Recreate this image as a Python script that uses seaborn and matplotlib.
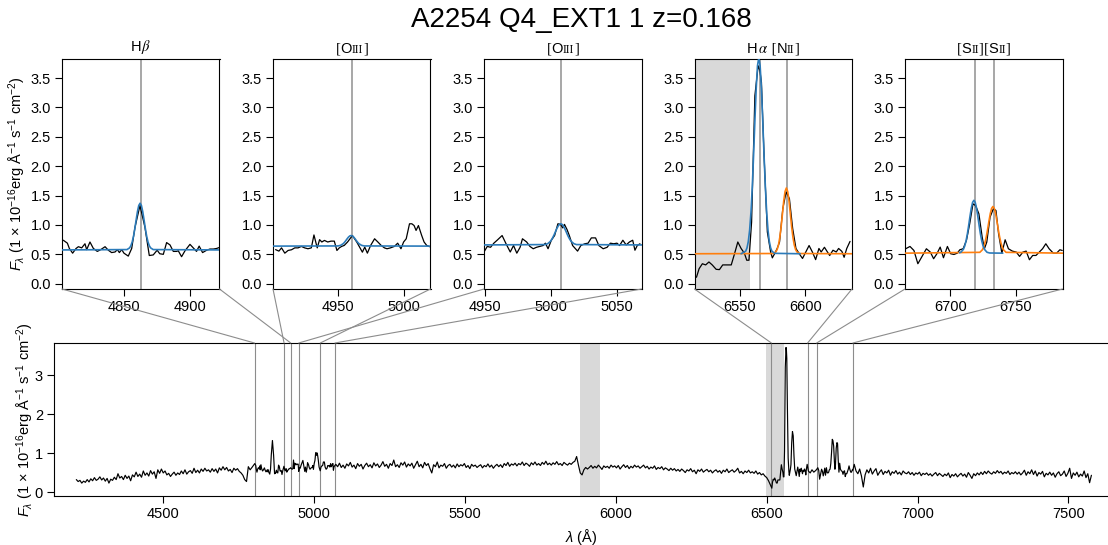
import numpy as np
import pandas as pd
import seaborn as sns
import matplotlib
matplotlib.use("Agg")
import matplotlib.pyplot as plt
from matplotlib.patches import ConnectionPatch
from matplotlib.ticker import MultipleLocator, FormatStrFormatter
from matplotlib.offsetbox import TextArea, HPacker, AnchoredOffsetbox

# ---------------- data (rest-frame wavelength in Angstrom, flux in 1e-16 cgs) ----------------
title = "A2254 Q4_EXT1 1 z=0.168"

# continuum pieces of the full spectrum (6 A sampling)
blue_wave = np.arange(4212, 4800, 6)
blue_flux = [
    0.33, 0.28, 0.31, 0.24, 0.29, 0.26, 0.33, 0.27, 0.35, 0.30,
    0.38, 0.31, 0.34, 0.40, 0.32, 0.37, 0.29, 0.36, 0.24, 0.34,
    0.31, 0.39, 0.33, 0.48, 0.37, 0.41, 0.33, 0.44, 0.36, 0.42,
    0.30, 0.45, 0.40, 0.52, 0.41, 0.47, 0.39, 0.55, 0.44, 0.50,
    0.42, 0.56, 0.47, 0.53, 0.36, 0.58, 0.49, 0.60, 0.50, 0.55,
    0.45, 0.49, 0.41, 0.47, 0.52, 0.44, 0.50, 0.46, 0.55, 0.48,
    0.58, 0.47, 0.53, 0.56, 0.49, 0.62, 0.51, 0.57, 0.50, 0.60,
    0.54, 0.62, 0.55, 0.58, 0.52, 0.61, 0.54, 0.60, 0.50, 0.63,
    0.57, 0.66, 0.58, 0.64, 0.55, 0.59, 0.51, 0.62, 0.57, 0.61,
    0.54, 0.50, 0.44, 0.33, 0.28, 0.66, 0.58, 0.64,
]
mid_wave = np.arange(5072, 6512, 6)
mid_flux = [
    0.72, 0.66, 0.75, 0.64, 0.70, 0.62, 0.73, 0.68, 0.77, 0.65,
    0.70, 0.61, 0.74, 0.67, 0.72, 0.60, 0.69, 0.75, 0.66, 0.71,
    0.63, 0.76, 0.68, 0.73, 0.64, 0.70, 0.79, 0.67, 0.72, 0.62,
    0.74, 0.69, 0.83, 0.66, 0.71, 0.64, 0.76, 0.70, 0.78, 0.65,
    0.73, 0.68, 0.75, 0.62, 0.71, 0.80, 0.66, 0.72, 0.63, 0.77,
    0.69, 0.74, 0.61, 0.50, 0.71, 0.66, 0.78, 0.63, 0.70, 0.67,
    0.74, 0.62, 0.69, 0.72, 0.65, 0.70, 0.63, 0.73, 0.66, 0.71,
    0.68, 0.74, 0.64, 0.69, 0.61, 0.72, 0.67, 0.70, 0.64, 0.68,
    0.71, 0.63, 0.69, 0.66, 0.73, 0.65, 0.70, 0.62, 0.68, 0.72,
    0.66, 0.71, 0.64, 0.74, 0.69, 0.77, 0.67, 0.73, 0.70, 0.75,
    0.68, 0.74, 0.71, 0.78, 0.69, 0.75, 0.72, 0.67, 0.76, 0.71,
    0.78, 0.70, 0.74, 0.69, 0.77, 0.72, 0.80, 0.71, 0.75, 0.70,
    0.76, 0.72, 0.79, 0.71, 0.74, 0.69, 0.77, 0.73, 0.70, 0.75,
    0.72, 0.77, 0.80, 0.92, 0.70, 0.50, 0.45, 0.58, 0.64, 0.60,
    0.64, 0.69, 0.62, 0.67, 0.63, 0.70, 0.65, 0.59, 0.68, 0.64,
    0.67, 0.62, 0.70, 0.65, 0.68, 0.63, 0.69, 0.60, 0.66, 0.71,
    0.64, 0.69, 0.61, 0.67, 0.63, 0.70, 0.65, 0.68, 0.62, 0.66,
    0.70, 0.63, 0.67, 0.60, 0.65, 0.62, 0.68, 0.59, 0.64, 0.61,
    0.66, 0.58, 0.63, 0.60, 0.56, 0.62, 0.57, 0.61, 0.55, 0.59,
    0.54, 0.60, 0.56, 0.51, 0.58, 0.55, 0.61, 0.53, 0.57, 0.48,
    0.58, 0.54, 0.60, 0.52, 0.56, 0.59, 0.53, 0.57, 0.50, 0.55,
    0.58, 0.52, 0.56, 0.49, 0.57, 0.53, 0.60, 0.51, 0.55, 0.58,
    0.52, 0.56, 0.62, 0.50, 0.54, 0.48, 0.55, 0.51, 0.57, 0.50,
    0.53, 0.49, 0.55, 0.47, 0.51, 0.45, 0.48, 0.42, 0.38, 0.30,
]
gap_wave = np.arange(6638, 6664, 6)
gap_flux = [0.55, 0.50, 0.58, 0.52, 0.56]
red_wave = np.arange(6790, 7580, 6)
red_flux = [
    0.72, 0.55, 0.48, 0.60, 0.42, 0.14, 0.45, 0.58, 0.50, 0.62,
    0.47, 0.55, 0.61, 0.44, 0.52, 0.58, 0.46, 0.54, 0.50, 0.57,
    0.44, 0.53, 0.49, 0.56, 0.47, 0.52, 0.45, 0.55, 0.50, 0.48,
    0.53, 0.46, 0.51, 0.44, 0.50, 0.47, 0.52, 0.43, 0.49, 0.46,
    0.50, 0.44, 0.48, 0.42, 0.47, 0.51, 0.43, 0.49, 0.45, 0.41,
    0.47, 0.43, 0.50, 0.38, 0.46, 0.42, 0.48, 0.40, 0.45, 0.49,
    0.42, 0.47, 0.39, 0.51, 0.44, 0.36, 0.48, 0.43, 0.50, 0.45,
    0.52, 0.46, 0.54, 0.48, 0.55, 0.50, 0.47, 0.53, 0.49, 0.56,
    0.50, 0.54, 0.47, 0.52, 0.49, 0.55, 0.46, 0.51, 0.48, 0.53,
    0.47, 0.52, 0.45, 0.50, 0.57, 0.44, 0.53, 0.48, 0.58, 0.46,
    0.55, 0.42, 0.51, 0.47, 0.54, 0.40, 0.49, 0.45, 0.52, 0.44,
    0.50, 0.39, 0.48, 0.53, 0.43, 0.47, 0.55, 0.41, 0.49, 0.62,
    0.36, 0.50, 0.44, 0.52, 0.40, 0.47, 0.42, 0.55, 0.38, 0.48,
    0.25, 0.44,
]

# H-beta window
hb_wave = [4803.5, 4806.6, 4808.1, 4810.6, 4813.2, 4815.0, 4817.5, 4820.0, 4821.3, 4823.8,
           4826.4, 4829.4, 4832.0, 4835.3, 4837.8, 4840.3, 4842.9, 4844.7, 4846.2, 4848.0,
           4849.7, 4853.0, 4855.6, 4858.1, 4861.9, 4865.7, 4869.0, 4872.0, 4875.0, 4877.0,
           4879.7, 4882.2, 4884.8, 4887.3, 4889.8, 4891.1, 4893.6, 4896.2, 4900.0, 4902.5,
           4905.0, 4907.0, 4909.6, 4912.7, 4915.2, 4917.8, 4920.3, 4922.8]
hb_flux = [0.74, 0.69, 0.60, 0.52, 0.60, 0.63, 0.61, 0.68, 0.58, 0.71,
           0.60, 0.55, 0.58, 0.63, 0.57, 0.53, 0.54, 0.58, 0.53, 0.58,
           0.52, 0.47, 0.60, 0.96, 1.33, 0.96, 0.48, 0.49, 0.57, 0.51,
           0.50, 0.70, 0.66, 0.55, 0.55, 0.56, 0.46, 0.56, 0.67, 0.61,
           0.55, 0.64, 0.53, 0.57, 0.59, 0.59, 0.60, 0.62]
hb_fit_wave = [4802, 4852, 4854, 4855, 4856, 4857, 4858, 4859, 4860, 4861, 4862,
               4863, 4864, 4865, 4866, 4867, 4868, 4869, 4870, 4872, 4923]
hb_fit_flux = [0.575, 0.581, 0.61, 0.648, 0.712, 0.81, 0.939, 1.087, 1.229, 1.332, 1.37,
               1.332, 1.229, 1.087, 0.939, 0.81, 0.712, 0.648, 0.61, 0.581, 0.575]

# [OIII] 4959 window
o3a_wave = [4902.5, 4905.0, 4907.0, 4909.5, 4912.0, 4914.6, 4917.1, 4919.6, 4922.1, 4924.6,
            4927.1, 4929.7, 4931.7, 4934.2, 4936.0, 4937.7, 4939.7, 4942.2, 4944.7, 4947.2,
            4949.2, 4951.0, 4952.8, 4954.8, 4957.3, 4961.0, 4964.3, 4966.8, 4968.6, 4970.4,
            4972.4, 4974.9, 4977.9, 4980.4, 4982.9, 4985.4, 4987.4, 4990.0, 4993.0, 4995.5,
            4998.0, 5000.0, 5002.0, 5004.5, 5006.3, 5008.0, 5009.5, 5011.3, 5013.8, 5015.6,
            5017.6, 5019.8]
o3a_flux = [0.58, 0.555, 0.61, 0.52, 0.566, 0.578, 0.61, 0.61, 0.635, 0.61,
            0.595, 0.61, 0.83, 0.61, 0.75, 0.71, 0.737, 0.71, 0.725, 0.725,
            0.566, 0.61, 0.635, 0.652, 0.71, 0.82, 0.71, 0.61, 0.537, 0.623,
            0.52, 0.652, 0.765, 0.71, 0.652, 0.61, 0.595, 0.61, 0.635, 0.69,
            0.595, 0.71, 0.765, 1.02, 1.02, 0.99, 0.907, 0.99, 0.82, 0.71,
            0.652, 0.63]
o3a_fit_wave = [4900, 4950, 4952, 4954, 4955, 4956, 4957, 4958, 4959, 4960,
                4961, 4962, 4963, 4964, 4965, 4966, 4968, 4970, 5021]
o3a_fit_flux = [0.64, 0.643, 0.653, 0.681, 0.705, 0.734, 0.765, 0.793, 0.813, 0.82,
                0.813, 0.793, 0.765, 0.734, 0.705, 0.681, 0.653, 0.643, 0.64]

# [OIII] 5007 window
o3b_wave = [4949.0, 4951.5, 4954.0, 4956.5, 4959.0, 4962.8, 4965.8, 4969.0, 4971.5, 4974.0,
            4976.5, 4978.3, 4981.5, 4984.0, 4986.5, 4989.0, 4991.5, 4994.0, 4995.8, 4997.8,
            5000.3, 5002.8, 5005.3, 5007.3, 5009.0, 5010.3, 5012.3, 5014.0, 5016.5, 5020.3,
            5022.8, 5025.8, 5028.3, 5030.8, 5034.0, 5036.5, 5039.8, 5042.8, 5045.3, 5047.8,
            5050.3, 5052.3, 5054.8, 5057.3, 5059.8, 5062.3, 5064.0, 5065.8, 5067.8]
o3b_flux = [0.54, 0.635, 0.62, 0.69, 0.74, 0.82, 0.68, 0.54, 0.65, 0.52,
            0.62, 0.765, 0.71, 0.635, 0.595, 0.62, 0.635, 0.65, 0.69, 0.595,
            0.74, 0.82, 1.02, 1.01, 0.95, 1.01, 0.92, 0.82, 0.65, 0.555,
            0.65, 0.68, 0.69, 0.78, 0.78, 0.65, 0.595, 0.62, 0.69, 0.68,
            0.69, 0.65, 0.74, 0.66, 0.71, 0.74, 0.57, 0.65, 0.68]
o3b_fit_wave = [4948, 4995.5, 4997.5, 4999.5, 5000.5, 5001.5, 5002.5, 5003.5, 5004.5, 5005.5,
                5006.5, 5007.5, 5008.5, 5009.5, 5010.5, 5011.5, 5012.5, 5013.5, 5014.5, 5015.5,
                5017.5, 5019.5, 5070]
o3b_fit_flux = [0.66, 0.666, 0.681, 0.719, 0.75, 0.79, 0.837, 0.889, 0.939, 0.981,
                1.01, 1.02, 1.01, 0.981, 0.939, 0.889, 0.837, 0.79, 0.75, 0.719,
                0.681, 0.666, 0.66]

# H-alpha + [NII] window
ha_wave = [6517.0, 6519.0, 6521.5, 6524.0, 6526.5, 6529.0, 6532.0, 6534.5, 6537.0, 6540.3,
           6543.5, 6546.0, 6548.5, 6551.0, 6553.5, 6555.3, 6557.0, 6559.0, 6561.5, 6564.0,
           6565.3, 6566.5, 6568.5, 6571.0, 6573.5, 6574.8, 6576.5, 6578.5, 6580.3, 6582.8,
           6585.3, 6586.5, 6587.8, 6590.3, 6592.8, 6595.3, 6597.8, 6600.3, 6602.8, 6605.3,
           6607.8, 6610.3, 6612.0, 6614.5, 6616.5, 6618.5, 6621.0, 6623.5, 6625.3, 6627.8,
           6629.5, 6631.5, 6634.0]
ha_flux = [0.11, 0.255, 0.34, 0.32, 0.37, 0.32, 0.245, 0.24, 0.32, 0.32,
           0.32, 0.51, 0.71, 0.60, 0.52, 0.40, 0.40, 1.05, 3.20, 3.71,
           3.63, 3.43, 2.18, 0.88, 0.54, 0.44, 0.51, 0.60, 0.71, 1.28,
           1.56, 1.51, 1.45, 0.94, 0.60, 0.51, 0.43, 0.54, 0.65, 0.54,
           0.41, 0.60, 0.54, 0.62, 0.55, 0.48, 0.57, 0.54, 0.60, 0.55,
           0.45, 0.60, 0.72]
ha_fit_wave = [6551, 6554.5, 6555.5, 6556.5, 6557.5, 6558.5, 6559.5, 6560.5, 6561.5, 6562.5,
               6563.5, 6564.5, 6565.5, 6566.5, 6567.5, 6568.5, 6569.5, 6570.5, 6571.5, 6572.5,
               6573.5, 6574.5, 6576.5, 6596]
ha_fit_flux = [0.51, 0.554, 0.61, 0.72, 0.91, 1.21, 1.64, 2.18, 2.77, 3.32,
               3.71, 3.85, 3.71, 3.32, 2.77, 2.18, 1.64, 1.21, 0.91, 0.72,
               0.61, 0.554, 0.517, 0.51]
n2_fit_wave = [6515, 6575.5, 6577.5, 6578.5, 6579.5, 6580.5, 6581.5, 6582.5, 6583.5, 6584.5,
               6585.5, 6586.5, 6587.5, 6588.5, 6589.5, 6590.5, 6591.5, 6592.5, 6593.5, 6595.5,
               6636]
n2_fit_flux = [0.51, 0.514, 0.542, 0.584, 0.66, 0.79, 0.97, 1.19, 1.41, 1.57,
               1.63, 1.57, 1.41, 1.19, 0.97, 0.79, 0.66, 0.584, 0.542, 0.514,
               0.51]

# [SII] doublet window
s2_wave = [6666.0, 6669.3, 6672.3, 6675.3, 6678.5, 6681.8, 6684.8, 6687.3, 6689.8, 6692.3,
           6694.8, 6697.8, 6700.3, 6702.8, 6705.3, 6707.3, 6709.8, 6712.3, 6714.8, 6717.3,
           6719.3, 6721.8, 6724.3, 6726.0, 6727.8, 6730.3, 6732.8, 6734.8, 6736.8, 6739.3,
           6741.8, 6744.3, 6747.3, 6750.3, 6752.8, 6755.3, 6757.8, 6760.3, 6762.8, 6765.3,
           6767.8, 6770.3, 6772.8, 6775.3, 6778.5, 6781.0, 6783.5, 6785.3]
s2_flux = [0.595, 0.634, 0.566, 0.34, 0.465, 0.595, 0.538, 0.425, 0.51, 0.623,
           0.442, 0.634, 0.51, 0.498, 0.52, 0.578, 0.595, 0.737, 1.02, 1.36,
           1.33, 1.19, 0.793, 0.595, 0.708, 1.133, 1.275, 1.247, 0.85, 0.52,
           0.748, 0.595, 0.555, 0.538, 0.465, 0.538, 0.555, 0.408, 0.481, 0.481,
           0.538, 0.595, 0.68, 0.595, 0.52, 0.52, 0.578, 0.566]
s2a_fit_wave = [6707, 6708, 6710, 6711, 6712, 6713, 6714, 6715, 6716, 6717, 6718,
                6719, 6720, 6721, 6722, 6723, 6724, 6725, 6726, 6728, 6730, 6740]
s2a_fit_flux = [0.528, 0.535, 0.586, 0.642, 0.727, 0.844, 0.988, 1.144, 1.284, 1.384, 1.42,
                1.384, 1.284, 1.144, 0.988, 0.844, 0.727, 0.642, 0.586, 0.535, 0.523, 0.52]
s2b_fit_wave = [6665, 6722.5, 6724.5, 6725.5, 6726.5, 6727.5, 6728.5, 6729.5, 6730.5, 6731.5,
                6732.5, 6733.5, 6734.5, 6735.5, 6736.5, 6737.5, 6738.5, 6739.5, 6740.5, 6742.5,
                6786]
s2b_fit_flux = [0.52, 0.534, 0.578, 0.627, 0.703, 0.806, 0.933, 1.071, 1.195, 1.283,
                1.315, 1.283, 1.195, 1.071, 0.933, 0.806, 0.703, 0.627, 0.578, 0.534,
                0.52]

windows = [(4802.5, 4922.5), (4900.5, 5020.5), (4949.0, 5069.0), (6515.5, 6635.5), (6665.5, 6785.5)]
line_marks = [[4862.5], [4960.5], [5008.0], [6565.5, 6586.0], [6718.8, 6733.3]]
masked = [(5880, 5946), (6496, 6558)]

# ---------------- style ----------------
sns.set_theme(style="ticks")
plt.rcParams['font.family'] = ['Liberation Sans', 'DejaVu Sans']
plt.rcParams['mathtext.fontset'] = 'custom'
plt.rcParams['mathtext.rm'] = 'Liberation Sans'
plt.rcParams['mathtext.it'] = 'Liberation Sans:italic'
plt.rcParams['mathtext.bf'] = 'Liberation Sans:bold'
for k in ['text.color', 'axes.labelcolor', 'xtick.color', 'ytick.color', 'axes.edgecolor']:
    plt.rcParams[k] = 'black'

BLUE = '#2b7bba'
ORANGE = '#ff7f0e'
GREY = '#8c8c8c'
SHADE = '#d9d9d9'
YLIM = (-0.09, 3.825)
FW, FH = 1108, 545

fig = plt.figure(figsize=(FW / 100, FH / 100), dpi=100)

ylab = r"$F_\lambda$ (1 $\times$ 10$^{-16}$erg Å$^{-1}$ s$^{-1}$ cm$^{-2}$)"


def rich_title(ax, parts):
    boxes = [TextArea(t, textprops=p) for t, p in parts]
    pack = HPacker(children=boxes, align="baseline", pad=0, sep=0)
    box = AnchoredOffsetbox(loc="lower center", child=pack, pad=0, frameon=False,
                            bbox_to_anchor=(0.5, 1.0), bbox_transform=ax.transAxes,
                            borderpad=0.2)
    ax.add_artist(box)


sans = dict(family='Liberation Sans', size=10.5, color='black')
serif = dict(family='Liberation Serif', size=10.5, color='black')
small = dict(family='Liberation Serif', size=8.5, color='black')
greek = dict(family='Liberation Sans', size=10.5, color='black', math_fontfamily='stix')
titles = [
    [("H", sans), (r"$\beta$", greek)],
    [("[", serif), ("O", sans), ("III", small), ("]", serif)],
    [("[", serif), ("O", sans), ("III", small), ("]", serif)],
    [("H", sans), (r"$\alpha$", greek), (" [", serif), ("N", sans), ("II", small), ("]", serif)],
    [("[", serif), ("S", sans), ("II", small), ("]", serif), ("[", serif), ("S", sans), ("II", small), ("]", serif)],
]

data_sets = [
    (hb_wave, hb_flux, [(hb_fit_wave, hb_fit_flux, BLUE)]),
    (o3a_wave, o3a_flux, [(o3a_fit_wave, o3a_fit_flux, BLUE)]),
    (o3b_wave, o3b_flux, [(o3b_fit_wave, o3b_fit_flux, BLUE)]),
    (ha_wave, ha_flux, [(n2_fit_wave, n2_fit_flux, ORANGE), (ha_fit_wave, ha_fit_flux, BLUE)]),
    (s2_wave, s2_flux, [(s2b_fit_wave, s2b_fit_flux, ORANGE), (s2a_fit_wave, s2a_fit_flux, BLUE)]),
]

# main panel
main = fig.add_axes([54 / FW, 49 / FH, 1054 / FW, 153 / FH])

inset_left = [62, 273, 484, 694.5, 905]
insets = []
for i, left in enumerate(inset_left):
    ax = fig.add_axes([left / FW, (FH - 289) / FH, 157.5 / FW, 230 / FH])
    wave, flux, fits = data_sets[i]
    lo, hi = windows[i]
    for a, b in masked:
        ax.axvspan(a, b, color=SHADE, lw=0, zorder=0)
    for m in line_marks[i]:
        ax.axvline(m, color='#a0a0a0', lw=1.3, zorder=1)
    sns.lineplot(x=wave, y=flux, ax=ax, color='black', lw=0.9, estimator=None, sort=False,
                 legend=False, zorder=2)
    for fw, ff, col in fits:
        sns.lineplot(x=fw, y=ff, ax=ax, color=col, lw=1.2, estimator=None, sort=False,
                     legend=False, zorder=3)
    ax.set_xlim(lo, hi)
    ax.set_ylim(*YLIM)
    ax.xaxis.set_major_locator(MultipleLocator(50))
    ax.yaxis.set_major_locator(MultipleLocator(0.5))
    ax.yaxis.set_major_formatter(FormatStrFormatter('%.1f'))
    ax.tick_params(direction='out', length=5, width=0.8, labelsize=10.5, pad=3)
    for sp in ax.spines.values():
        sp.set_linewidth(0.8)
    ax.set_xlabel('')
    ax.set_ylabel(ylab if i == 0 else '', fontsize=10.5, labelpad=2)
    rich_title(ax, titles[i])
    insets.append(ax)

# full spectrum assembled from continuum pieces and the zoomed windows
pieces = [
    pd.DataFrame({'wave': blue_wave, 'flux': blue_flux}),
    pd.DataFrame({'wave': hb_wave, 'flux': hb_flux}).query('wave < 4901'),
    pd.DataFrame({'wave': o3a_wave, 'flux': o3a_flux}).query('wave >= 4901 and wave < 4949'),
    pd.DataFrame({'wave': o3b_wave, 'flux': o3b_flux}),
    pd.DataFrame({'wave': mid_wave, 'flux': mid_flux}),
    pd.DataFrame({'wave': ha_wave, 'flux': ha_flux}),
    pd.DataFrame({'wave': gap_wave, 'flux': gap_flux}),
    pd.DataFrame({'wave': s2_wave, 'flux': s2_flux}),
    pd.DataFrame({'wave': red_wave, 'flux': red_flux}),
]
spec = pd.concat(pieces).sort_values('wave').reset_index(drop=True)

for a, b in masked:
    main.axvspan(a, b, color=SHADE, lw=0, zorder=0)
for lo, hi in windows:
    main.axvline(lo, color=GREY, lw=0.8, zorder=1)
    main.axvline(hi, color=GREY, lw=0.8, zorder=1)
sns.lineplot(data=spec, x='wave', y='flux', ax=main, color='black', lw=0.85,
             estimator=None, sort=False, legend=False, zorder=2)
main.set_xlim(4138, 7631)
main.set_ylim(*YLIM)
main.xaxis.set_major_locator(MultipleLocator(500))
main.yaxis.set_major_locator(MultipleLocator(1))
main.tick_params(direction='out', length=5, width=0.8, labelsize=10.5, pad=3)
main.spines['right'].set_visible(False)
for sp in main.spines.values():
    sp.set_linewidth(0.8)
main.set_xlabel(r"$\lambda$ (Å)", fontsize=10.5, labelpad=4)
main.set_ylabel(ylab, fontsize=10.5, labelpad=-1)

# connectors from the zoom panels down to the full spectrum
for ax, (lo, hi) in zip(insets, windows):
    for corner, xw in ((0, lo), (1, hi)):
        con = ConnectionPatch(xyA=(corner, 0), coordsA=ax.transAxes,
                              xyB=(xw, YLIM[1]), coordsB=main.transData,
                              color=GREY, lw=0.8)
        fig.add_artist(con)

fig.text(581 / FW, 1 - 20 / FH, title, ha='center', va='center', fontsize=20)

fig.savefig('out.png', dpi=100)
